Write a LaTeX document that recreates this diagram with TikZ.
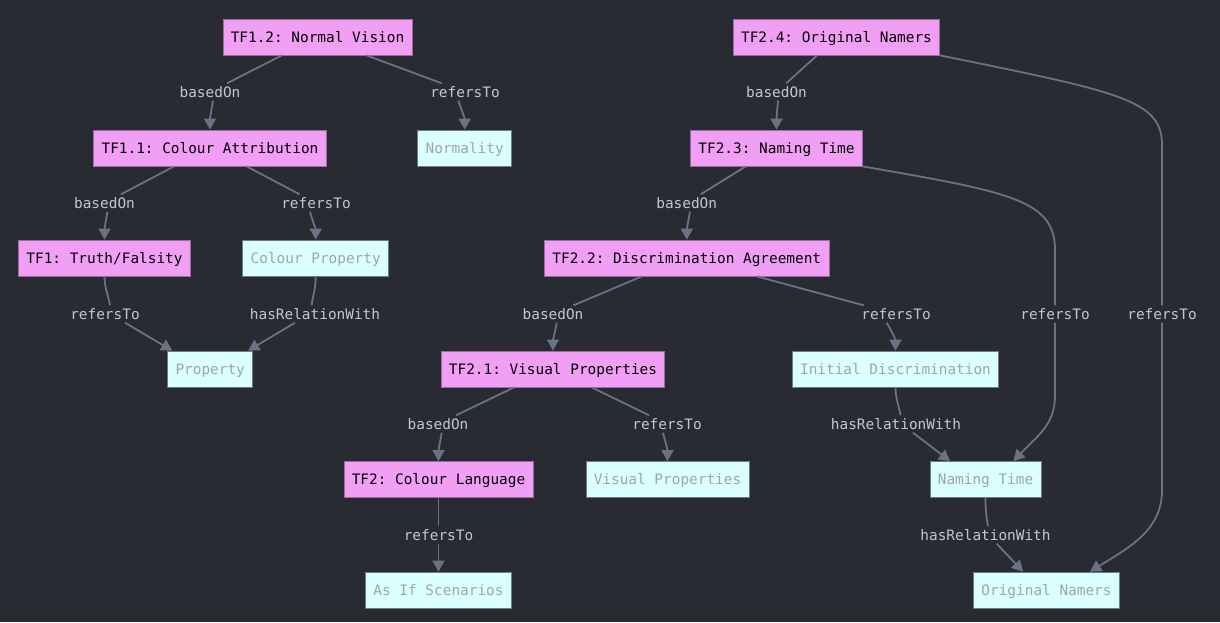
\documentclass[tikz,border=0pt]{standalone}
\usepackage{fontspec}
\newfontfamily\dgmmono{DejaVu Sans Mono}
\usetikzlibrary{arrows.meta}
\definecolor{bgc}{HTML}{292B33}
\definecolor{pinkc}{HTML}{F19EF5}
\definecolor{pinkbd}{HTML}{9B6BA0}
\definecolor{cyanc}{HTML}{DAFFFF}
\definecolor{cyanbd}{HTML}{707A80}
\definecolor{cyantxt}{HTML}{A3A3AD}
\definecolor{lblc}{HTML}{C6C7CD}
\definecolor{edgec}{HTML}{6A7283}
\newcommand\dgmfont{\dgmmono\fontsize{14.4pt}{17pt}\selectfont\frenchspacing}
\begin{document}
\frenchspacing
\begin{tikzpicture}[x=1pt,y=1pt,
  box/.style={rectangle, font=\dgmfont, minimum height=36pt, inner xsep=7.8pt, inner ysep=0pt, text height=10.5pt, text depth=0pt, line width=0.8pt},
  pinkbox/.style={box, fill=pinkc, draw=pinkbd, text=black},
  cyanbox/.style={box, fill=cyanc, draw=cyanbd, text=cyantxt},
  lbl/.style={font=\dgmfont, fill=bgc, text=lblc, inner xsep=1.5pt, inner ysep=3.25pt, text height=10.5pt, text depth=0pt},
  edge/.style={draw=edgec, line width=1.8pt},
  arr/.style={edge, -{Triangle[length=11pt,width=12pt]}}
]
\fill[bgc] (0,0) rectangle (1220,-622);
\useasboundingbox (0,0) rectangle (1220,-622);

% nodes
\node[pinkbox] (tf12) at (317.5,-37) {TF1.2: Normal Vision};
\node[pinkbox] (tf11) at (210,-148) {TF1.1: Colour Attribution};
\node[pinkbox] (tf1) at (104.5,-258) {TF1: Truth/Falsity};
\node[cyanbox] (norm) at (464.7,-148) {Normality};
\node[cyanbox] (cprop) at (315.7,-258) {Colour Property};
\node[cyanbox] (prop) at (210.2,-369) {Property};
\node[pinkbox] (tf24) at (836.5,-37) {TF2.4: Original Namers};
\node[pinkbox] (tf23) at (776.5,-148) {TF2.3: Naming Time};
\node[pinkbox] (tf22) at (686.8,-258) {TF2.2: Discrimination Agreement};
\node[pinkbox] (tf21) at (553,-369) {TF2.1: Visual Properties};
\node[pinkbox] (tf2) at (438.5,-479.5) {TF2: Colour Language};
\node[cyanbox] (vprop) at (667.5,-479.5) {Visual Properties};
\node[cyanbox] (asif) at (438.5,-590) {As If Scenarios};
\node[cyanbox] (idisc) at (895.5,-369) {Initial Discrimination};
\node[cyanbox] (ntime) at (985.5,-479.5) {Naming Time};
\node[cyanbox] (onam) at (1046.5,-590) {Original Namers};

% labels
\node[lbl] (l1) at (210,-92) {basedOn};
\node[lbl] (l2) at (465,-92) {refersTo};
\node[lbl] (l3) at (104.5,-203) {basedOn};
\node[lbl] (l4) at (316,-203) {refersTo};
\node[lbl] (l5) at (105,-314) {refersTo};
\node[lbl] (l6) at (315,-314) {hasRelationWith};
\node[lbl] (l7) at (776.5,-92) {basedOn};
\node[lbl] (l8) at (686.7,-203) {basedOn};
\node[lbl] (l9) at (1055,-314) {refersTo};
\node[lbl] (l10) at (1162,-314) {refersTo};
\node[lbl] (l11) at (553,-314) {basedOn};
\node[lbl] (l12) at (896,-314) {refersTo};
\node[lbl] (l13) at (438,-424) {basedOn};
\node[lbl] (l14) at (667,-424) {refersTo};
\node[lbl] (l15) at (896,-424) {hasRelationWith};
\node[lbl] (l16) at (438.5,-535) {refersTo};
\node[lbl] (l17) at (985.5,-535) {hasRelationWith};

% edges
\draw[edge] ([xshift=-35.8pt]tf12.south) -- (l1);
\draw[arr] ([xshift=3pt]l1.south) to[out=-100,in=90] (tf11.north);

\draw[edge] ([xshift=49.2pt]tf12.south) -- (l2);
\draw[arr] ([xshift=-6.7pt]l2.south) to[out=-70,in=90] (norm.north);

\draw[edge] ([xshift=-36pt]tf11.south) -- (l3);
\draw[arr] ([xshift=3pt]l3.south) to[out=-100,in=90] (tf1.north);

\draw[edge] ([xshift=36.7pt]tf11.south) -- (l4);
\draw[arr] ([xshift=-6pt]l4.south) to[out=-75,in=90] (cprop.north);

\draw[edge] (tf1.south) to[out=-90,in=100] ([xshift=5pt]l5.north);
\draw[arr] ([xshift=20pt]l5.south) -- ([xshift=-38pt]prop.north);

\draw[edge] (cprop.south) to[out=-90,in=80] ([xshift=-3.5pt]l6.north);
\draw[arr] ([xshift=-20pt]l6.south) -- ([xshift=38pt]prop.north);

\draw[edge] ([xshift=-19.5pt]tf24.south) -- (l7);
\draw[arr] ([xshift=1.5pt]l7.south) to[out=-95,in=90] (tf23.north);

\draw[edge] (tf24.south east) .. controls (1120,-92) and (1162,-100) .. (1162,-145) -- (l10.north);
\draw[arr] (l10.south) -- (1162,-490) .. controls (1162,-530) and (1130,-547) .. ([xshift=43.5pt]onam.north);

\draw[edge] (tf23.south east) .. controls (1010,-192) and (1055,-200) .. (1055,-250) -- (l9.north);
\draw[arr] (l9.south) -- (1055,-395) .. controls (1055,-425) and (1038,-435) .. ([xshift=28pt]ntime.north);

\draw[edge] ([xshift=-30.8pt]tf23.south) -- (l8);
\draw[arr] ([xshift=3.3pt]l8.south) to[out=-100,in=90] (tf22.north);

\draw[edge] ([xshift=-45pt]tf22.south) -- (l11);
\draw[arr] ([xshift=3.7pt]l11.south) to[out=-100,in=90] (tf21.north);

\draw[edge] ([xshift=70pt]tf22.south) -- (l12);
\draw[arr] ([xshift=-9.3pt]l12.south) to[out=-60,in=90] (idisc.north);

\draw[edge] ([xshift=-39pt]tf21.south) -- (l13);
\draw[arr] ([xshift=3.7pt]l13.south) to[out=-100,in=90] (tf2.north);

\draw[edge] ([xshift=38.7pt]tf21.south) -- (l14);
\draw[arr] ([xshift=-4pt]l14.south) to[out=-75,in=90] (vprop.north);

\draw[edge] (tf2.south) -- (l16);
\draw[arr] (l16) -- (asif.north);

\draw[edge] (idisc.south) to[out=-90,in=100] ([xshift=4.5pt]l15.north);
\draw[arr] ([xshift=17pt]l15.south) -- ([xshift=-35.5pt]ntime.north);

\draw[edge] (ntime.south) to[out=-90,in=100] ([xshift=2.5pt]l17.north);
\draw[arr] ([xshift=11.2pt]l17.south) -- ([xshift=-23.5pt]onam.north);
\end{tikzpicture}
\end{document}
